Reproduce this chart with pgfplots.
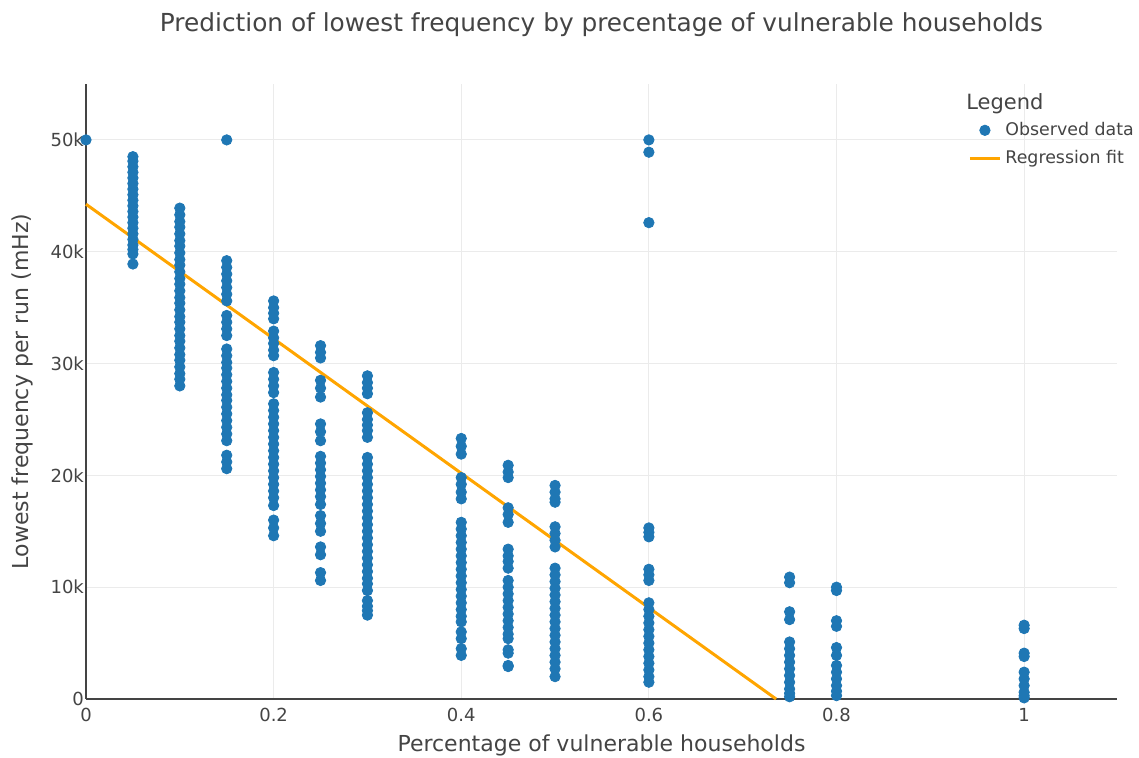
\documentclass[border=0pt]{standalone}
\usepackage{fontspec}
\setmainfont{DejaVu Sans}
\usepackage{pgfplots}
\pgfplotsset{compat=1.18}
\definecolor{plotBlue}{HTML}{1F77B4}
\definecolor{fitOrange}{HTML}{FFA500}
\definecolor{txt}{HTML}{444444}
\definecolor{gridc}{HTML}{EBEBEB}

\begin{document}
\begin{tikzpicture}
\useasboundingbox (-43pt,-29.5pt) rectangle (526.5pt,349.5pt);
\begin{axis}[
  at={(0,0)}, anchor=south west,
  scale only axis, width=515.5pt, height=307.5pt,
  xmin=0, xmax=1.099, ymin=0, ymax=55000,
  axis lines*=left,
  axis line style={txt, line width=0.6pt},
  xtick={0,0.2,0.4,0.6,0.8,1},
  xticklabels={0,0.2,0.4,0.6,0.8,1},
  ytick={0,10000,20000,30000,40000,50000},
  yticklabels={0,10k,20k,30k,40k,50k},
  scaled y ticks=false,
  major tick length=0pt,
  xmajorgrids, ymajorgrids,
  grid style={gridc, line width=0.5pt},
  tick label style={font=\fontsize{9}{11}\selectfont, text=txt},
  xticklabel style={yshift=-1pt},
  yticklabel style={xshift=2.5pt},
  xlabel={Percentage of vulnerable households},
  ylabel={Lowest frequency per run (mHz)},
  every axis x label/.style={at={(axis description cs:0.5,-0.0748)}, anchor=center,
    font=\fontsize{11}{13}\selectfont, text=txt},
  every axis y label/.style={at={(axis description cs:-0.0621,0.5)}, anchor=center, rotate=90,
    font=\fontsize{11}{13}\selectfont, text=txt},
  title={Prediction of lowest frequency by precentage of vulnerable households},
  every axis title/.style={at={(axis description cs:0.5,1.096)}, anchor=center,
    font=\fontsize{12.4}{14}\selectfont, text=txt},
  clip=false,
  legend image code/.code={\draw[mark repeat=2,mark phase=2,#1] plot coordinates {(0pt,0pt) (7.5pt,0pt) (15pt,0pt)};},
  legend style={at={(axis description cs:0.8555,0.945)}, anchor=north west,
    draw=none, fill=none, inner sep=0pt, row sep=2pt,
    font=\fontsize{8.7}{10.5}\selectfont, text=txt,
    /tikz/every odd column/.append style={column sep=0pt}},
  legend cell align=left,
]
\addplot[only marks, mark=*, mark size=2.6pt, mark options={draw=plotBlue, fill=plotBlue}] coordinates {
  (0,50000)
  (0.05,48500) (0.05,48100) (0.05,47600) (0.05,47100) (0.05,46600) (0.05,46100) (0.05,45600)
  (0.05,45100) (0.05,44600) (0.05,44100) (0.05,43600) (0.05,43100) (0.05,42600) (0.05,42100)
  (0.05,41600) (0.05,41100) (0.05,40600) (0.05,40200) (0.05,39800) (0.05,38900)
  (0.1,43900) (0.1,43300) (0.1,42700) (0.1,42200) (0.1,41600) (0.1,41000) (0.1,40500)
  (0.1,39900) (0.1,39300) (0.1,38800) (0.1,38200) (0.1,37600) (0.1,37100) (0.1,36500)
  (0.1,35900) (0.1,35400) (0.1,34800) (0.1,34200) (0.1,33700) (0.1,33100) (0.1,32500)
  (0.1,32000) (0.1,31400) (0.1,30800) (0.1,30300) (0.1,29700) (0.1,29100) (0.1,28600) (0.1,28000)
  (0.15,50000)
  (0.15,39200) (0.15,38600) (0.15,38000) (0.15,37400) (0.15,36800) (0.15,36200) (0.15,35600)
  (0.15,34300) (0.15,33700) (0.15,33100) (0.15,32500)
  (0.15,31300) (0.15,30700) (0.15,30100) (0.15,29600) (0.15,29000) (0.15,28400) (0.15,27800)
  (0.15,27200) (0.15,26700) (0.15,26100) (0.15,25500) (0.15,24900) (0.15,24300) (0.15,23700) (0.15,23100)
  (0.15,21800) (0.15,21200) (0.15,20600)
  (0.2,35600) (0.2,35000) (0.2,34500) (0.2,34000)
  (0.2,32900) (0.2,32300) (0.2,31800) (0.2,31200) (0.2,30700)
  (0.2,29200) (0.2,28600) (0.2,28000) (0.2,27400)
  (0.2,26400) (0.2,25800) (0.2,25200) (0.2,24600) (0.2,24000) (0.2,23400) (0.2,22800) (0.2,22200)
  (0.2,21600) (0.2,21000) (0.2,20400) (0.2,19800) (0.2,19200) (0.2,18600) (0.2,18000) (0.2,17300)
  (0.2,16000) (0.2,15300) (0.2,14600)
  (0.25,31600) (0.25,31000) (0.25,30500)
  (0.25,28500) (0.25,27800) (0.25,27000)
  (0.25,24600) (0.25,23900) (0.25,23100)
  (0.25,21700) (0.25,21100) (0.25,20500) (0.25,19900) (0.25,19300) (0.25,18700) (0.25,18100) (0.25,17400)
  (0.25,16400) (0.25,15700) (0.25,15000)
  (0.25,13600) (0.25,12900)
  (0.25,11300) (0.25,10600)
  (0.3,28900) (0.3,28300) (0.3,27800) (0.3,27300)
  (0.3,25600) (0.3,25000) (0.3,24500) (0.3,24000) (0.3,23400)
  (0.3,21600) (0.3,21000) (0.3,20400) (0.3,19800) (0.3,19200) (0.3,18600) (0.3,18000) (0.3,17400)
  (0.3,16800) (0.3,16200) (0.3,15600) (0.3,15000) (0.3,14400) (0.3,13800) (0.3,13200) (0.3,12600)
  (0.3,12000) (0.3,11400) (0.3,10800) (0.3,10300) (0.3,9700)
  (0.3,8800) (0.3,8300) (0.3,7900) (0.3,7500)
  (0.4,23300) (0.4,22600) (0.4,21900)
  (0.4,19800) (0.4,19200) (0.4,18500) (0.4,17900)
  (0.4,15800) (0.4,15200) (0.4,14600) (0.4,14000) (0.4,13400) (0.4,12800) (0.4,12200) (0.4,11600)
  (0.4,11000) (0.4,10400) (0.4,9800) (0.4,9200) (0.4,8600) (0.4,8000) (0.4,7400) (0.4,6900)
  (0.4,6000) (0.4,5400)
  (0.4,4500) (0.4,3900)
  (0.45,20900) (0.45,20300) (0.45,19800)
  (0.45,17100) (0.45,16500) (0.45,15800)
  (0.45,13400) (0.45,12800) (0.45,12300) (0.45,11700)
  (0.45,10600) (0.45,10000) (0.45,9400) (0.45,8800) (0.45,8200) (0.45,7600) (0.45,7000) (0.45,6400)
  (0.45,5800) (0.45,5400)
  (0.45,4400) (0.45,4100)
  (0.45,3000) (0.45,2900)
  (0.5,19100) (0.5,18500) (0.5,17900) (0.5,17600)
  (0.5,15400) (0.5,14800) (0.5,14200) (0.5,13600)
  (0.5,11700) (0.5,11100) (0.5,10500) (0.5,9900) (0.5,9300) (0.5,8700) (0.5,8100) (0.5,7500)
  (0.5,6900) (0.5,6300) (0.5,5700) (0.5,5100) (0.5,4500) (0.5,3900) (0.5,3300) (0.5,2700) (0.5,2000)
  (0.6,50000) (0.6,48900) (0.6,42600)
  (0.6,15300) (0.6,14900) (0.6,14500)
  (0.6,11600) (0.6,11100) (0.6,10600)
  (0.6,8600) (0.6,8000) (0.6,7400) (0.6,6800) (0.6,6200) (0.6,5600) (0.6,5000) (0.6,4400)
  (0.6,3800) (0.6,3200) (0.6,2600) (0.6,2000) (0.6,1500)
  (0.75,10900) (0.75,10400)
  (0.75,7800) (0.75,7100)
  (0.75,5100) (0.75,4500) (0.75,3900) (0.75,3300) (0.75,2700) (0.75,2100) (0.75,1500) (0.75,900)
  (0.75,500) (0.75,200)
  (0.8,10000) (0.8,9700)
  (0.8,7000) (0.8,6500)
  (0.8,4600) (0.8,3900)
  (0.8,3000) (0.8,2400) (0.8,1800) (0.8,1200) (0.8,700) (0.8,300)
  (1,6600) (1,6300)
  (1,4100) (1,3800)
  (1,2400) (1,1800) (1,1200) (1,600) (1,300) (1,100)
};
\addlegendentry{Observed data}
\addplot[fitOrange, line width=1.5pt, no marks] coordinates {(0,44250) (0.7356,0)};
\addlegendentry{Regression fit}
\node[anchor=west, font=\fontsize{10.5}{12}\selectfont, text=txt, inner sep=0pt]
  at (axis description cs:0.8535,0.9675) {Legend};
\end{axis}
\end{tikzpicture}
\end{document}
